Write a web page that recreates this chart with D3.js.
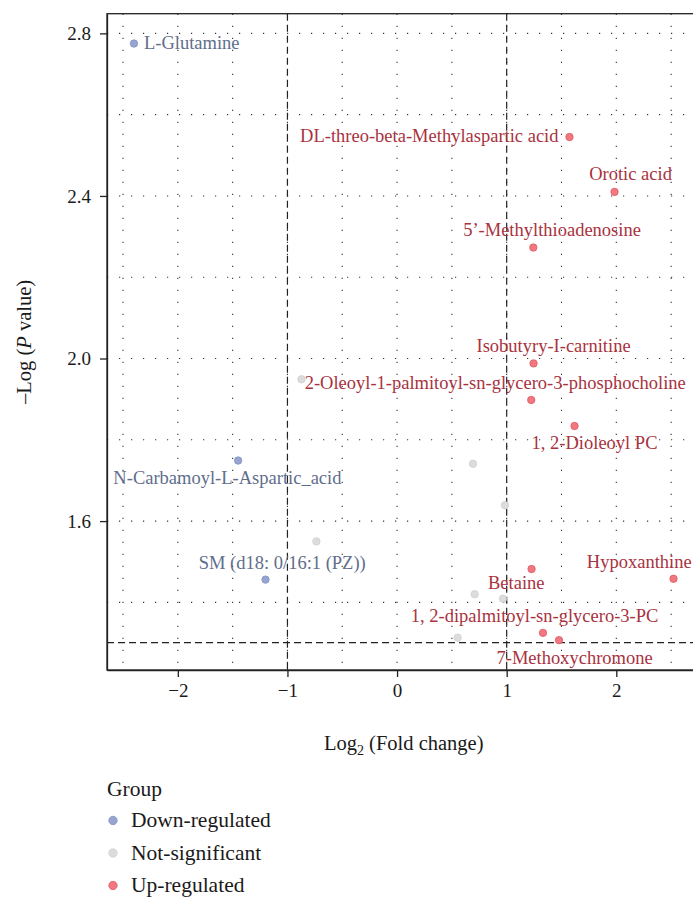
<!DOCTYPE html>
<html>
<head>
<meta charset="utf-8">
<script src="https://cdn.jsdelivr.net/npm/d3@7"></script>
<style>
  html, body { margin: 0; padding: 0; background: #fff; }
  svg { display: block; }
  text { font-family: "Liberation Serif", "Times New Roman", serif; }
</style>
</head>
<body>
<svg id="chart" width="693" height="897" font-family="'Liberation Serif', serif"></svg>
<script>
// ---- data ----
const names = [
  "L-Glutamine", "N-Carbamoyl-L-Aspartic_acid", "SM (d18: 0/16:1 (PZ))",
  "DL-threo-beta-Methylaspartic acid", "Orotic acid", "5\u2019-Methylthioadenosine",
  "Isobutyry-I-carnitine", "2-Oleoyl-1-palmitoyl-sn-glycero-3-phosphocholine", "1, 2-Dioleoyl PC",
  "Betaine", "Hypoxanthine", "1, 2-dipalmitoyl-sn-glycero-3-PC", "7-Methoxychromone",
  "", "", "", "", "", "", ""
];
const log2FC = [
  -2.40, -1.45, -1.20,
  1.573, 1.984, 1.243,
  1.245, 1.224, 1.619,
  1.227, 2.522, 1.331, 1.477,
  -0.872, 0.693, 0.984, -0.736, 0.708, 0.966, 0.553
];
const negLogP = [
  2.775, 1.749, 1.456,
  2.545, 2.410, 2.273,
  1.988, 1.898, 1.834,
  1.482, 1.458, 1.325, 1.307,
  1.949, 1.741, 1.639, 1.550, 1.420, 1.409, 1.313
];
const groups = [
  "Down-regulated", "Down-regulated", "Down-regulated",
  "Up-regulated", "Up-regulated", "Up-regulated",
  "Up-regulated", "Up-regulated", "Up-regulated",
  "Up-regulated", "Up-regulated", "Up-regulated", "Up-regulated",
  "Not-significant", "Not-significant", "Not-significant", "Not-significant",
  "Not-significant", "Not-significant", "Not-significant"
];
const groupNames = ["Down-regulated", "Not-significant", "Up-regulated"];
const xTicks = [-2, -1, 0, 1, 2];
const yTicks = [1.6, 2.0, 2.4, 2.8];
const fcCut = [-1, 1];
const pCut = 1.301;

// ---- layout (label offsets in px, anchor) ----
const labelLayout = {
  "L-Glutamine": [10, 5, "start"],
  "N-Carbamoyl-L-Aspartic_acid": [-10.7, 23, "middle"],
  "SM (d18: 0/16:1 (PZ))": [16.7, -11, "middle"],
  "DL-threo-beta-Methylaspartic acid": [-11, 5, "end"],
  "Orotic acid": [16, -12, "middle"],
  "5\u2019-Methylthioadenosine": [18.7, -12, "middle"],
  "Isobutyry-I-carnitine": [20, -11, "middle"],
  "2-Oleoyl-1-palmitoyl-sn-glycero-3-phosphocholine": [-36, -10.7, "middle"],
  "1, 2-Dioleoyl PC": [20, 23.3, "middle"],
  "Betaine": [-15.3, 20.3, "middle"],
  "Hypoxanthine": [-34.3, -10.3, "middle"],
  "1, 2-dipalmitoyl-sn-glycero-3-PC": [-8.4, -10.7, "middle"],
  "7-Methoxychromone": [15.6, 24, "middle"]
};

const FONT = "'Liberation Serif', 'Times New Roman', serif";
const fill = d3.scaleOrdinal().domain(groupNames).range(["#97a5d0", "#dcdcdc", "#f2777f"]);
const stroke = d3.scaleOrdinal().domain(groupNames).range(["#8190c0", "#cfcfcf", "#dc5a64"]);
const labelColor = d3.scaleOrdinal().domain(groupNames).range(["#5f6e8c", "#999", "#a8323e"]);

const data = names.map((n, i) => ({ name: n, x: log2FC[i], y: negLogP[i], g: groups[i] }));

const svg = d3.select("#chart");
const L = 107, T = 13.7, R = 700.5, B = 670;

const xExt = d3.extent(log2FC), yExt = d3.extent(negLogP);
const xPad = (xExt[1] - xExt[0]) * 0.05, yPad = (yExt[1] - yExt[0]) * 0.05;
const x = d3.scaleLinear().domain([xExt[0] - xPad, xExt[1] + xPad]).range([L, R]);
const y = d3.scaleLinear().domain([yExt[0] - yPad, yExt[1] + yPad]).range([B, T]);

// grid (major + minor, dotted)
const xGrid = d3.range(-2.5, 2.51, 0.5);
const yGrid = d3.range(1.4, 2.81, 0.2);
const grid = svg.append("g");
grid.selectAll("line.gx").data(xGrid).join("line")
  .attr("x1", d => x(d)).attr("x2", d => x(d)).attr("y1", T).attr("y2", B)
  .attr("stroke", "#333").attr("stroke-width", 1.1).attr("stroke-dasharray", "1.2 10.8");
grid.selectAll("line.gy").data(yGrid).join("line")
  .attr("x1", L).attr("x2", R).attr("y1", d => y(d)).attr("y2", d => y(d))
  .attr("stroke", "#333").attr("stroke-width", 1.1).attr("stroke-dasharray", "1.2 10.8");

// threshold lines
svg.append("g").selectAll("line").data(fcCut).join("line")
  .attr("x1", d => x(d)).attr("x2", d => x(d)).attr("y1", T).attr("y2", B)
  .attr("stroke", "#222").attr("stroke-width", 1.2).attr("stroke-dasharray", "7 4");
svg.append("line")
  .attr("x1", L).attr("x2", R).attr("y1", y(pCut)).attr("y2", y(pCut))
  .attr("stroke", "#222").attr("stroke-width", 1.2).attr("stroke-dasharray", "7 4");

// border
svg.append("rect").attr("x", L).attr("y", T).attr("width", R - L).attr("height", B - T)
  .attr("fill", "none").attr("stroke", "#222").attr("stroke-width", 1.3);

// axes
const xAxis = svg.append("g").attr("transform", `translate(0,${B})`)
  .call(d3.axisBottom(x).tickValues(xTicks).tickSize(7).tickSizeOuter(0).tickPadding(6).tickFormat(d3.format("d")));
const yAxis = svg.append("g").attr("transform", `translate(${L},0)`)
  .call(d3.axisLeft(y).tickValues(yTicks).tickSize(7).tickSizeOuter(0).tickPadding(9).tickFormat(d3.format(".1f")));
[xAxis, yAxis].forEach(a => {
  a.attr("font-family", FONT).attr("font-size", 19);
  a.select(".domain").attr("stroke", "#222").attr("stroke-width", 1.3);
  a.selectAll(".tick line").attr("stroke", "#222").attr("stroke-width", 1.3);
  a.selectAll(".tick text").attr("fill", "#1a1a1a").attr("font-family", FONT)
    .style("font-size", "19px").style("font-family", FONT);
});
xAxis.selectAll(".tick text").attr("dy", "0.75em");

// points
svg.append("g").selectAll("circle").data(data).join("circle")
  .attr("cx", d => x(d.x)).attr("cy", d => y(d.y)).attr("r", 3.7)
  .attr("fill", d => fill(d.g)).attr("stroke", d => stroke(d.g)).attr("stroke-width", 0.8);

// labels
svg.append("g").selectAll("text").data(data.filter(d => d.name)).join("text")
  .attr("x", d => x(d.x) + labelLayout[d.name][0])
  .attr("y", d => y(d.y) + labelLayout[d.name][1])
  .attr("text-anchor", d => labelLayout[d.name][2])
  .attr("fill", d => labelColor(d.g))
  .style("font-family", FONT)
  .style("font-size", "18.5px")
  .text(d => d.name);

// axis titles
const xt = svg.append("text").attr("x", (L + R) / 2).attr("y", 750).attr("text-anchor", "middle")
  .attr("fill", "#1a1a1a").style("font-size", "20.5px").style("font-family", FONT);
xt.append("tspan").text("Log");
xt.append("tspan").attr("dy", 5).style("font-size", "14px").text("2");
xt.append("tspan").attr("dy", -5).text(" (Fold change)");

const yt = svg.append("text").attr("transform", `translate(31,${(T + B) / 2}) rotate(-90)`)
  .attr("text-anchor", "middle").attr("fill", "#1a1a1a").style("font-size", "20.5px").style("font-family", FONT);
yt.append("tspan").text("\u2013Log (");
yt.append("tspan").style("font-style", "italic").text("P");
yt.append("tspan").text(" value)");

// legend
const lg = svg.append("g");
lg.append("text").attr("x", 107).attr("y", 796).attr("fill", "#1a1a1a")
  .style("font-size", "21.5px").style("font-family", FONT).text("Group");
const items = lg.selectAll("g.item").data(groupNames).join("g")
  .attr("transform", (d, i) => `translate(0,${820.5 + i * 32.5})`);
items.append("circle").attr("cx", 113).attr("cy", 0).attr("r", 4.2)
  .attr("fill", d => fill(d)).attr("stroke", d => stroke(d)).attr("stroke-width", 0.8);
items.append("text").attr("x", 131).attr("y", 6.5).attr("fill", "#1a1a1a")
  .style("font-size", "21.5px").style("font-family", FONT).text(d => d);
</script>
</body>
</html>
